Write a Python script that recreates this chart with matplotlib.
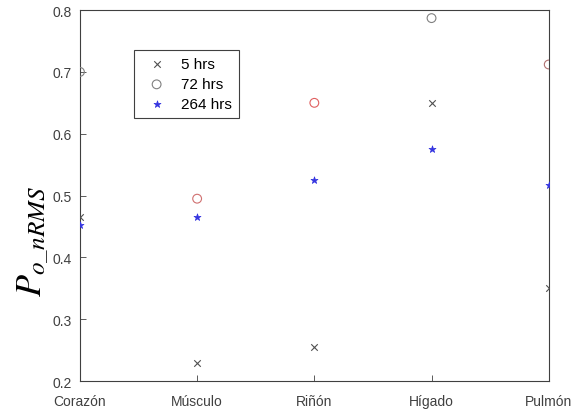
import numpy as np
import matplotlib.pyplot as plt

plt.rcParams['font.family'] = ['Liberation Sans', 'DejaVu Sans']
plt.rcParams['mathtext.fontset'] = 'stix'

organos = ['Corazón', 'Músculo', 'Riñón', 'Hígado', 'Pulmón']
h5 = [0.465, 0.230, 0.255, 0.650, 0.350]
h72 = [0.700, 0.495, 0.650, 0.787, 0.712]
h264 = [0.453, 0.465, 0.525, 0.575, 0.517]
# colores de los circulos (algunos salen rojizos en el original)
col72 = ['#808080', '#d07070', '#e06060', '#808080', '#b07070']

x = np.arange(len(organos))

fig = plt.figure(figsize=(5.71, 4.10), dpi=100)
ax = fig.add_axes([0.140, 0.068, 0.821, 0.905])

ax.scatter(x, h5, marker='x', s=22, color='#505050', linewidths=0.8, label='5 hrs', zorder=3)
ax.scatter(x, h72, marker='o', s=40, facecolors='none', edgecolors=col72, linewidths=0.8, label='72 hrs', zorder=3)
ax.scatter(x, h264, marker='*', s=28, color='#3535e0', linewidths=0.5, label='264 hrs', zorder=3)

ax.set_xlim(0, 4)
ax.set_ylim(0.2, 0.8)
ax.set_xticks(x)
ax.set_xticklabels(organos)
ax.set_yticks([0.2, 0.3, 0.4, 0.5, 0.6, 0.7, 0.8])
ax.tick_params(direction='in', length=4, labelsize=10, colors='#404040', width=0.6)
ax.tick_params(axis='x', pad=9)
ax.tick_params(axis='y', pad=6)
for s in ax.spines.values():
    s.set_color('#404040')
    s.set_linewidth(0.8)

ax.set_ylabel(r'$P_{o\_nRMS}$', fontsize=26)
ax.yaxis.set_label_coords(-0.062, 0.38)

leg = ax.legend(loc='upper left', bbox_to_anchor=(0.10, 0.912), fontsize=11,
                fancybox=False, edgecolor='#404040', framealpha=1,
                handletextpad=0.6, borderpad=0.45, labelspacing=0.4)
leg.get_frame().set_linewidth(0.8)
leg.legend_handles[1].set_edgecolor('#808080')

fig.savefig('out.png', dpi=100)
